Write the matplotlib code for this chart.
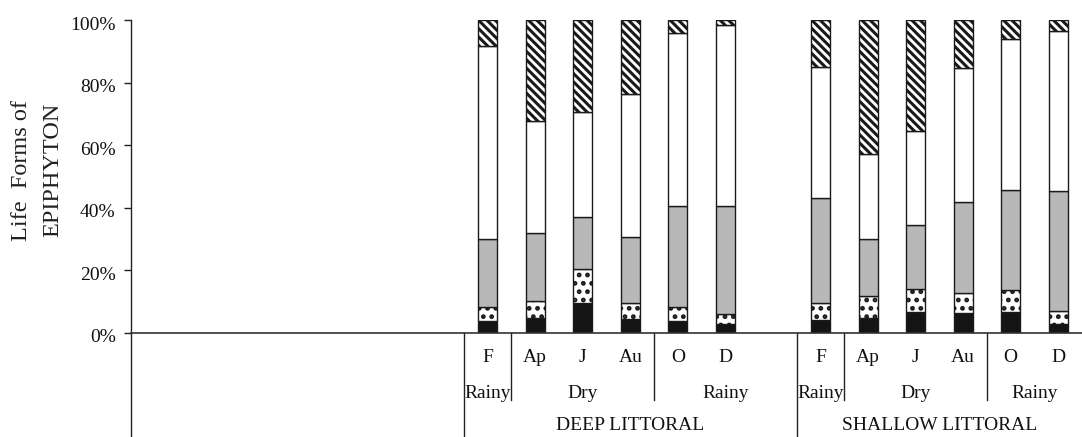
import matplotlib
matplotlib.use("Agg")
import matplotlib.pyplot as plt
import matplotlib.transforms as mtransforms
import numpy as np

plt.rcParams["font.family"] = ["Liberation Serif", "DejaVu Serif"]
plt.rcParams["hatch.linewidth"] = 2.2

# Sampling months per station
months = ["F", "Ap", "J", "Au", "O", "D"]
deep_pos = [7, 8, 9, 10, 11, 12]
shallow_pos = [14, 15, 16, 17, 18, 19]

# Percentage share of each life form (bottom to top), per month
deep_solid   = [3.7, 4.8, 9.6, 4.6, 3.7, 3.0]
deep_dotted  = [4.6, 5.3, 10.7, 5.0, 4.5, 3.2]
deep_grey    = [21.7, 22.0, 16.8, 21.0, 32.5, 34.5]
deep_open    = [61.7, 35.6, 33.6, 45.8, 55.1, 57.7]
deep_hatched = [8.3, 32.3, 29.3, 23.6, 4.2, 1.6]

shallow_solid   = [4.1, 4.8, 6.7, 6.4, 6.7, 3.0]
shallow_dotted  = [5.5, 7.1, 7.5, 6.3, 7.0, 4.1]
shallow_grey    = [33.6, 18.2, 20.4, 29.1, 32.1, 38.3]
shallow_open    = [41.8, 27.0, 30.0, 42.8, 48.0, 51.0]
shallow_hatched = [15.0, 42.9, 35.4, 15.4, 6.2, 3.6]

# Season spans: (label, first slot, last slot)
deep_seasons = [("Rainy", 6.5, 7.5), ("Dry", 7.5, 10.5), ("Rainy", 10.5, 13.5)]
shallow_seasons = [("Rainy", 13.5, 14.5), ("Dry", 14.5, 17.5), ("Rainy", 17.5, 19.5)]
stations = [("DEEP LITTORAL", 6.5, 13.5), ("SHALLOW LITTORAL", 13.5, 19.5)]

yticks = [0, 20, 40, 60, 80, 100]
ytick_labels = ["0%", "20%", "40%", "60%", "80%", "100%"]

styles = [
    dict(color="#141414", hatch=None),
    dict(color="white", hatch=".."),
    dict(color="#b8b8b8", hatch=None),
    dict(color="white", hatch=None),
    dict(color="white", hatch="\\\\\\\\"),
]

fig = plt.figure(figsize=(10.82, 4.37), dpi=100)
ax = fig.add_axes([131 / 1082, 104 / 437, 1 - 131 / 1082, 313 / 437])

width = 0.40


def draw_station(pos, layers):
    bottom = np.zeros(len(pos))
    for vals, st in zip(layers, styles):
        vals = np.asarray(vals)
        ax.bar(pos, vals, width, bottom=bottom, color=st["color"],
               hatch=st["hatch"], edgecolor="#1a1a1a", linewidth=1.0)
        bottom += vals


draw_station(deep_pos, [deep_solid, deep_dotted, deep_grey, deep_open, deep_hatched])
draw_station(shallow_pos, [shallow_solid, shallow_dotted, shallow_grey,
                           shallow_open, shallow_hatched])

ax.set_xlim(-0.5, 19.5)
ax.set_ylim(0, 100)
ax.set_yticks(yticks)
ax.set_yticklabels(ytick_labels, fontsize=14)
ax.tick_params(axis="y", direction="out", length=5, width=1.0, pad=6, colors="#222222")
ax.tick_params(axis="x", bottom=False, labelbottom=False)
shift = mtransforms.ScaledTranslation(0, -3 / 100, fig.dpi_scale_trans)
for lab in ax.get_yticklabels():
    lab.set_color("#111111")
    lab.set_transform(lab.get_transform() + shift)

for side in ["top", "right"]:
    ax.spines[side].set_visible(False)
ax.spines["left"].set_color("#222222")
ax.spines["bottom"].set_color("#333333")
ax.spines["left"].set_linewidth(1.0)
ax.spines["bottom"].set_linewidth(1.2)
ax.spines["left"].set_bounds(0, 100)

ax.set_ylabel("Life  Forms of\nEPIPHYTON", fontsize=17.5, linespacing=1.6,
              color="#222222")
ax.yaxis.set_label_coords(-0.0715, 0.52)

trans = ax.get_xaxis_transform()
row_month = -0.077
row_season = -0.192
row_station = -0.295
season_line_end = -0.215
station_line_end = -0.34

# Category axis table below the bars
ax.plot([-0.5, -0.5], [0, station_line_end], transform=trans, color="#222222",
        lw=1.0, clip_on=False)
for p, m in zip(deep_pos + shallow_pos, months + months):
    ax.text(p, row_month, m, transform=trans, ha="center", va="center",
            fontsize=14, color="#111111")

for label, a, b in deep_seasons + shallow_seasons:
    ax.text((a + b) / 2, row_season, label, transform=trans, ha="center",
            va="center", fontsize=14, color="#111111")
for x in [7.5, 10.5, 14.5, 17.5]:
    ax.plot([x, x], [0, season_line_end], transform=trans, color="#222222",
            lw=1.0, clip_on=False)

for label, a, b in stations:
    ax.text((a + b) / 2, row_station, label, transform=trans, ha="center",
            va="center", fontsize=14, color="#111111")
for x in [6.5, 13.5]:
    ax.plot([x, x], [0, station_line_end], transform=trans, color="#222222",
            lw=1.0, clip_on=False)

fig.savefig("out.png", dpi=100)
